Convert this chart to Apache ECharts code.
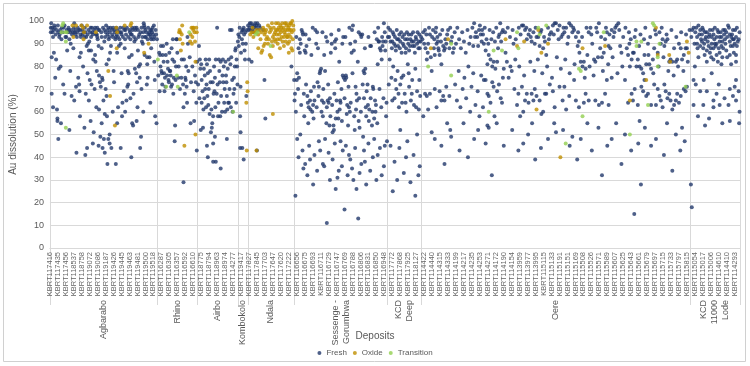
<!DOCTYPE html>
<html><head><meta charset="utf-8">
<script src="https://cdn.jsdelivr.net/npm/echarts@6/dist/echarts.min.js"></script>
<style>html,body{margin:0;padding:0;background:#fff}#c{width:750px;height:366px}</style>
</head><body><div id="c"></div>
<script>
// sample-number tick labels (one label every 18 samples)
const tickLabels = ['KBRT117416','KBRT117435','KBRT117456','KBRT118537','KBRT118758','KBRT119072','KBRT119086','KBRT119187','KBRT119426','KBRT119445','KBRT119463','KBRT119481','KBRT119500','KBRT119518','KBRT116287','KBRT116305','KBRT116357','KBRT116592','KBRT116610','KBRT118775','KBRT118794','KBRT118963','KBRT118974','KBRT114277','KBRT119417','KBRT117827','KBRT117845','KBRT117703','KBRT117647','KBRT117620','KBRT117222','KBRT116656','KBRT116675','KBRT116693','KBRT116711','KBRT116729','KBRT116747','KBRT116769','KBRT116788','KBRT116806','KBRT116831','KBRT116850','KBRT116948','KBRT117772','KBRT117868','KBRT117925','KBRT118127','KBRT114422','KBRT114440','KBRT114315','KBRT114333','KBRT114199','KBRT114217','KBRT114235','KBRT114253','KBRT114271','KBRT114172','KBRT114190','KBRT114154','KBRT113959','KBRT113977','KBRT113995','KBRT115115','KBRT115133','KBRT115191','KBRT115151','KBRT115169','KBRT115508','KBRT115526','KBRT115571','KBRT115589','KBRT115607','KBRT115625','KBRT115643','KBRT115661','KBRT115679','KBRT115697','KBRT115715','KBRT115733','KBRT115797','KBRT115815','KBRT115054','KBRT115017','KBRT115006','KBRT114610','KBRT114410','KBRT114293'];
const labelStep = 18;
const sampleCount = 1560;
const deposits = ['Agbarabo','Rhino','Airbo','Kombokolo','Ndala','Sessenge -\nGorumbwa','KCD\nDeep','Oere','KCD\n11000\nLode'];
const depositBounds = [0,243,333,426,447,552,763,840,1447,1560];

// [sample index, Au dissolution %]
const fresh = [
[2,97],[2,95],[6,95],[4,84],[4,68],[10,98],[12,75],[14,83],[16,61],[17,57],[17,56],[19,95],[21,93],[24,80],[27,97],[40,95],[43,96],[45,95],[47,90],[49,67],[56,95],[61,93],[62,95],[64,75],[66,72],[67,84],[67,69],[73,96],[80,95],[81,68],[83,89],[87,96],[86,90],[89,91],[88,87],[88,65],[90,74],[93,93],[93,87],[96,95],[98,83],[99,51],[101,70],[103,82],[107,97],[107,93],[109,96],[110,89],[111,76],[111,61],[113,73],[114,49],[115,71],[118,75],[119,74],[121,65],[122,48],[123,96],[123,91],[124,59],[125,93],[127,98],[128,81],[129,58],[132,48],[132,97],[134,93],[135,95],[136,86],[138,89],[135,50],[141,94],[143,97],[145,73],[147,95],[149,93],[154,93],[154,62],[156,89],[158,95],[160,90],[161,95],[163,58],[164,64],[167,69],[171,96],[173,65],[175,71],[176,78],[178,77],[179,84],[181,95],[186,97],[186,55],[188,54],[189,68],[191,91],[193,96],[195,77],[197,73],[198,62],[200,93],[201,80],[203,75],[204,81],[206,49],[208,91],[210,90],[212,99],[213,98],[216,96],[219,72],[220,84],[220,81],[225,95],[225,84],[226,94],[228,93],[231,95],[233,94],[234,92],[235,98],[237,74],[238,58],
[19,48],[60,42],[80,41],[84,44],[97,46],[110,45],[119,44],[124,42],[130,37],[135,46],[139,44],[149,37],[160,44],[184,40],[204,44],
[5,97],[8,96],[13,94],[23,96],[31,97],[35,93],[38,96],[52,95],[54,97],[58,94],[65,96],[69,94],[76,95],[78,93],[92,97],[100,96],[104,94],[116,95],[130,94],[140,96],[150,97],[165,93],[168,96],[183,94],[196,97],[205,95],[215,93],[222,97],[230,96],[240,94],
[3,99],[7,93],[11,97],[15,96],[18,98],[22,94],[26,92],[29,95],[33,98],[37,93],[42,97],[44,92],[48,96],[50,94],[55,99],[57,96],[63,97],[68,96],[70,93],[72,98],[74,94],[79,97],[82,93],[85,94],[91,95],[95,97],[97,94],[102,97],[106,94],[108,92],[112,96],[117,93],[120,97],[126,95],[131,96],[133,92],[137,97],[142,93],[146,96],[148,92],[151,94],[153,96],[157,92],[159,97],[162,94],[166,97],[170,92],[172,94],[174,97],[177,93],[180,96],[182,92],[185,94],[187,96],[190,93],[192,97],[194,92],[199,96],[202,94],[207,97],[209,93],[211,95],[214,97],[217,93],[218,95],[221,92],[223,94],[227,96],[229,92],[232,97],[236,93],[239,96],[242,92],
[9,86],[20,79],[30,72],[39,87],[46,78],[53,88],[59,71],[70,86],[75,80],[85,77],[94,72],[102,85],[106,78],[117,88],[126,70],[133,83],[144,78],[152,86],[162,77],[169,88],[177,72],[185,85],[192,79],[199,87],[207,70],[214,85],[221,75],[229,88],[236,82],
[7,62],[25,55],[33,68],[44,52],[55,65],[68,58],[78,53],[92,56],[105,62],[117,55],[128,67],[142,60],[152,55],[170,60],[182,66],[196,56],[211,60],[227,64],[241,55],
[247,86],[249,85],[251,89],[252,78],[253,77],[255,85],[256,89],[258,77],[260,75],[261,71],[264,90],[265,76],[266,82],[268,74],[269,73],[271,78],[272,78],[274,71],[275,88],[277,83],[278,92],[280,75],[281,82],[283,54],[284,74],[286,92],[287,92],[290,75],[297,75],[302,62],[303,83],[305,68],[306,75],[307,74],[309,71],[311,93],[312,90],[318,55],[326,56],[330,73],[333,82],[282,47],[302,29],[332,43],
[245,76],[248,69],[250,80],[254,72],[257,82],[259,69],[262,85],[267,79],[270,86],[273,76],[276,72],[279,68],[285,80],[288,86],[291,80],[294,70],[298,83],[301,72],[308,80],[310,64],[313,78],[316,84],[319,73],[322,80],[325,69],[328,76],[331,64],
[337,89],[339,83],[340,79],[342,81],[343,74],[343,64],[345,69],[346,53],[348,79],[349,66],[351,70],[352,83],[354,72],[355,81],[357,77],[358,63],[360,83],[361,59],[363,73],[364,51],[366,53],[367,55],[369,58],[370,68],[372,69],[373,75],[375,83],[378,97],[380,58],[382,83],[383,78],[385,58],[386,82],[389,60],[391,83],[392,73],[394,64],[395,70],[397,82],[398,76],[400,67],[401,61],[403,64],[404,83],[405,64],[407,96],[408,81],[410,84],[411,96],[413,60],[416,75],[417,70],[419,87],[420,88],[422,83],[423,80],[425,91],
[335,72],[338,66],[347,61],[350,76],[353,62],[356,67],[359,70],[362,78],[365,61],[368,73],[371,80],[374,62],[377,68],[379,72],[381,64],[384,73],[387,67],[390,76],[393,80],[396,60],[399,73],[402,79],[406,70],[409,62],[412,74],[415,68],[418,80],[421,64],[424,72],
[341,52],[355,45],[357,40],[369,46],[369,38],[373,49],[375,38],[386,35],[400,48],
[426,94],[428,93],[430,58],[431,71],[434,92],[435,96],[437,96],[438,97],[440,87],[441,83],[442,95],[444,67],[431,51],[430,44],[435,44],[438,39],
[427,89],[429,97],[432,86],[433,95],[436,90],[439,94],[443,90],[445,96],
[448,98],[452,99],[454,96],[457,98],[462,98],[467,98],[469,99],[450,83],[456,82],[485,74],[487,57],[482,96],[546,80],[468,43],[460,95],[475,97],
[449,96],[451,97],[455,99],[458,96],[461,97],[464,99],[466,97],[470,96],[473,98],
[552,74],[554,68],[553,65],[558,74],[559,77],[563,75],[565,92],[565,86],[567,90],[569,96],[571,95],[572,94],[574,68],[576,87],[578,86],[580,89],[582,67],[583,64],[585,62],[588,65],[589,61],[591,85],[593,60],[595,63],[597,71],[598,65],[600,96],[602,90],[604,95],[605,73],[608,71],[610,77],[611,78],[613,79],[615,65],[617,58],[619,64],[620,85],[622,78],[624,93],[626,62],[628,65],[630,64],[632,54],[633,66],[635,86],[637,90],[639,51],[641,54],[642,52],[644,91],[647,92],[648,65],[650,60],[652,57],[654,82],[656,65],[657,64],[659,70],[662,76],[663,93],[664,75],[667,74],[669,76],[670,75],[672,63],[674,54],[676,62],[678,60],[679,90],[682,86],[683,96],[684,77],[685,98],[687,87],[689,52],[691,71],[693,68],[694,65],[696,82],[699,66],[700,53],[702,94],[704,93],[706,94],[707,72],[709,78],[711,77],[713,79],[715,58],[716,69],[719,63],[722,61],[724,89],[726,89],[728,54],[730,71],[731,70],[733,57],[736,60],[737,63],[739,92],[741,81],[743,91],[744,91],[746,88],[748,87],[750,83],[752,89],[753,91],[755,99],[758,87],[759,91],[761,64],
[556,60],[561,70],[568,63],[575,58],[579,72],[584,55],[590,69],[596,57],[603,62],[607,67],[614,60],[618,70],[625,55],[629,72],[634,58],[638,63],[643,68],[646,57],[651,73],[655,61],[660,56],[666,66],[671,59],[675,71],[680,64],[688,58],[692,61],[698,56],[703,60],[710,66],[714,62],[718,72],[721,56],[725,66],[729,60],[735,65],[740,55],[745,70],[749,62],[754,66],[760,58],
[562,40],[573,35],[586,45],[598,41],[608,47],[620,36],[630,42],[644,46],[650,31],[660,36],[669,45],[676,41],[683,35],[690,44],[700,33],[712,38],[720,46],[730,40],[738,30],[746,44],[755,36],[762,47],
[557,93],[562,88],[578,94],[586,92],[594,97],[606,88],[616,95],[627,91],[636,94],[645,88],[653,96],[661,90],[668,93],[677,97],[690,91],[698,95],[712,88],[720,93],[734,95],[742,97],[751,93],[757,95],
[559,48],[571,43],[577,37],[582,32],[588,39],[595,28],[604,34],[611,43],[617,37],[626,11],[633,30],[639,39],[646,26],[653,34],[662,43],[666,17],[673,32],[679,39],[686,30],[693,26],[697,13],[704,37],[710,43],[715,28],[724,34],[733,48],[741,41],[750,32],[757,45],[566,50],[622,48],[657,47],[708,49],[555,23],
[765,97],[767,93],[770,91],[773,88],[775,95],[778,90],[780,93],[782,87],[785,92],[787,89],[790,94],[792,91],[795,86],[797,93],[800,89],[803,92],[805,88],[807,95],[810,90],[812,87],[815,92],[817,94],[820,89],[822,91],[825,86],[827,93],[830,90],[833,88],[835,94],[838,91],
[764,93],[769,96],[774,91],[777,94],[781,89],[784,96],[788,92],[791,88],[794,95],[798,90],[801,94],[804,86],[808,92],[811,94],[814,89],[818,91],[821,95],[824,89],[828,92],[831,95],[834,91],[836,88],[839,93],
[768,83],[772,75],[776,80],[779,66],[783,70],[786,78],[789,62],[792,72],[796,64],[799,76],[802,68],[806,60],[809,81],[812,71],[816,65],[819,74],[823,63],[826,79],[830,69],[834,61],[837,67],
[766,72],[774,65],[781,74],[788,68],[795,75],[804,64],[811,77],[818,68],[828,62],[835,74],
[770,45],[779,38],[785,30],[792,52],[800,33],[808,47],[815,29],[822,41],[830,50],[836,36],[775,25],[790,44],[805,40],[826,23],[833,32],
[844,95],[848,96],[849,88],[852,83],[854,86],[855,90],[859,94],[861,84],[863,78],[866,96],[869,92],[870,85],[872,95],[874,90],[876,93],[878,88],[879,87],[881,85],[884,91],[885,81],[889,89],[891,87],[894,92],[896,90],[900,96],[903,88],[907,91],[911,86],[913,88],
[842,92],[846,90],[851,94],[857,97],[864,93],[868,88],[873,97],[877,91],[882,94],[887,96],[893,88],[898,94],[905,97],[909,93],[915,95],[918,90],[921,97],[925,92],[929,88],[932,95],[936,91],[940,86],[944,96],[948,90],[951,93],[957,89],[961,93],[968,89],[972,98],[976,91],[979,94],[983,97],[987,92],[991,90],[994,96],[998,92],[1002,95],[1006,91],[1009,97],[1013,88],[1016,94],[1020,91],[1024,96],
[844,58],[848,68],[852,67],[855,61],[859,68],[863,51],[870,70],[874,62],[881,69],[885,65],[889,67],[892,65],[896,71],[898,55],[903,67],[907,49],
[916,72],[920,65],[924,78],[928,62],[933,70],[937,75],[941,66],[946,80],[950,60],[953,71],[957,77],[962,63],[967,69],[971,58],[975,76],[979,62],[1005,58],[1015,72],[1019,66],[1024,75],
[955,97],[959,99],[963,95],[966,93],[970,96],[974,94],[977,96],[981,90],[985,87],[989,81],[992,85],[996,83],[1000,80],[1003,82],[1007,79],[1011,82],[1014,93],[1018,99],[1022,95],[981,74],[985,74],[989,68],[992,67],[996,64],[1000,73],[1003,71],[1011,69],[1022,64],[989,54],[992,53],
[1067,98],[1070,98],[1074,96],[1078,92],[1082,94],[1085,96],[1089,91],[1093,95],[1096,90],[1100,93],[1104,93],[1107,89],[1111,96],[1115,88],[1119,91],[1122,85],[1126,97],[1130,94],[1133,95],[1137,98],[1141,99],[1144,99],[1148,96],[1152,98],[1156,93],[1159,94],[1163,95],[1167,97],[1170,90],[1174,99],[1178,98],[1181,95],[1185,96],[1189,93],[1193,89],[1196,91],[1200,82],[1204,80],[1207,82],[1211,79],[1215,85],[1218,95],[1222,97],[1226,90],[1230,83],[1233,82],[1237,95],[1241,99],[1244,88],[1248,84],[1252,86],[1255,92],[1259,95],[1263,89],[1267,88],[1270,96],[1274,93],[1278,97],[1281,98],[1285,99],[1289,89],[1292,86],
[1029,95],[1035,97],[1040,93],[1046,96],[1053,92],[1060,97],[1064,94],[1077,97],[1087,93],[1098,97],[1109,95],[1117,93],[1128,92],[1139,94],[1150,92],[1161,97],[1172,93],[1183,97],[1194,95],[1203,93],[1213,97],[1224,94],[1235,97],[1246,93],[1257,97],[1265,94],[1276,95],[1287,96],[1296,93],[1301,97],[1309,95],[1313,92],[1324,96],[1335,94],[1346,97],[1357,93],[1368,96],[1383,97],[1394,94],[1405,96],[1416,93],[1427,95],[1438,94],[1446,96],
[1322,93],[1326,80],[1329,83],[1333,80],[1337,79],[1341,77],[1344,85],[1348,81],[1352,90],[1355,81],[1359,79],[1363,83],[1366,88],[1370,94],[1374,86],[1378,95],[1381,90],[1385,92],[1389,89],[1392,91],[1396,92],[1400,82],[1403,83],[1407,82],[1411,88],[1415,82],[1418,83],[1422,90],[1426,88],[1429,83],[1433,85],[1437,88],[1440,88],
[1030,86],[1037,75],[1044,78],[1050,70],[1061,80],[1072,76],[1086,82],[1095,78],[1103,83],[1113,77],[1124,80],[1135,75],[1146,84],[1155,79],[1165,83],[1175,77],[1186,81],[1197,86],[1209,75],[1220,80],[1229,76],[1239,84],[1250,78],[1262,81],[1272,84],[1283,77],[1294,80],[1300,74],[1310,90],[1320,86],[1332,89],[1343,92],[1353,85],[1364,77],[1376,80],[1387,84],[1398,78],[1410,76],[1420,80],[1432,78],[1442,82],
[1056,63],[1059,68],[1063,58],[1067,71],[1070,60],[1074,65],[1078,68],[1082,64],[1089,68],[1093,65],[1096,70],[1100,67],[1107,65],[1111,59],[1115,60],[1119,68],[1122,68],[1130,72],[1137,69],[1141,62],[1144,51],[1152,71],[1159,65],[1163,71],[1167,61],[1174,67],[1181,49],[1185,74],[1189,65],[1196,62],[1207,64],[1211,68],[1218,65],[1233,65],[1241,63],[1248,64],[1255,68],[1259,74],[1263,63],[1270,75],[1307,64],[1315,68],[1318,65],[1322,70],[1329,63],[1333,56],[1337,71],[1341,69],[1344,74],[1348,67],[1352,68],[1359,63],[1366,72],[1370,63],[1374,70],[1378,67],[1381,65],[1385,62],[1389,72],[1392,69],[1396,66],[1400,68],[1403,65],[1407,61],[1411,63],[1415,65],[1418,68],[1422,64],[1426,67],[1429,53],[1433,70],[1437,69],[1440,71],
[1304,88],[1307,85],[1311,80],[1315,83],[1318,86],[1026,79],[1033,82],[1041,80],[1048,90],[1052,83],
[870,48],[892,37],[926,43],[959,48],[999,32],[1026,45],[1059,43],[1081,50],[1097,39],[1126,48],[1192,39],[1225,43],[1248,32],[1270,48],[1292,37],[1314,43],[1321,15],[1336,28],[1359,45],[1388,41],[1407,34],[1425,43],
[885,45],[905,52],[935,55],[945,40],[968,52],[985,46],[1010,55],[1045,52],[1070,46],[1090,55],[1110,44],[1140,55],[1160,52],[1175,45],[1200,48],[1215,55],[1240,53],[1260,45],[1280,55],[1300,50],[1330,46],[1345,53],[1370,48],[1395,55],[1415,50],[1435,47],
[1455,97],[1459,95],[1463,93],[1466,98],[1470,96],[1474,94],[1477,96],[1481,92],[1485,95],[1489,93],[1492,96],[1496,90],[1500,94],[1503,97],[1507,93],[1511,95],[1514,91],[1518,93],[1522,96],[1526,92],[1529,95],[1533,98],[1537,94],[1540,93],[1544,96],[1548,90],[1551,93],[1555,91],[1559,95],[1470,89],[1477,88],[1485,87],[1492,86],[1500,88],[1507,85],[1514,86],[1522,88],[1529,87],[1537,85],[1544,89],[1551,85],[1485,82],[1500,83],[1518,81],[1540,81],[1551,82],
[1450,93],[1452,96],[1457,90],[1461,97],[1464,88],[1468,94],[1472,92],[1475,97],[1479,90],[1483,93],[1487,91],[1491,94],[1494,88],[1498,96],[1502,92],[1505,89],[1509,96],[1512,88],[1516,95],[1520,91],[1524,94],[1527,90],[1531,93],[1535,97],[1539,89],[1542,94],[1546,92],[1549,96],[1553,89],[1557,92],[1553,97],[1546,86],[1531,84],[1520,84],[1510,82],[1495,84],[1480,85],[1466,84],[1458,80],[1460,72],[1478,74],[1496,77],[1512,72],[1525,66],[1534,63],[1557,69],[1558,55],[1465,58],[1490,57],[1520,55],
[1455,74],[1470,69],[1485,69],[1500,65],[1514,63],[1537,70],[1548,71],[1551,65],[1559,60],[1544,67],[1477,63],[1455,63],[1500,62],[1537,56],[1481,54],[1507,68],[1551,74],
[1463,90],[1474,91],[1489,89],[1503,90],[1514,93],[1526,96],[1537,91],[1544,92],[1507,90],[1481,95],[1496,93],[1518,89],[1449,28],[1451,18]
];
const oxide = [
[51,98],[53,93],[59,98],[71,98],[75,97],[77,95],[76,92],[84,98],[104,95],[132,78],[136,67],[150,97],[151,88],[152,95],[169,98],[182,98],[184,99],[213,86],[223,90],[147,54],
[292,95],[293,96],[295,95],[296,87],[299,98],[300,90],[317,91],[320,97],[321,90],[323,97],[324,96],[327,95],[329,82],[332,95],[304,45],[329,50],
[294,92],[298,94],[318,94],[322,93],[325,97],[328,91],[331,97],
[446,73],[447,69],[444,64],[445,43],
[474,96],[478,95],[482,97],[485,94],[489,96],[493,98],[497,95],[500,96],[504,93],[506,97],[509,95],[511,96],[514,96],[517,97],[519,96],[521,98],[522,95],[524,93],[526,96],[528,97],[530,95],[531,99],[533,96],[536,93],[537,96],[539,97],[541,91],[543,99],[545,96],[546,88],[548,87],[551,96],[478,86],[480,87],[497,85],[500,84],[493,90],[504,89],[515,90],[526,91],[533,91],[537,93],[541,98],[545,99],[548,100],[504,59],[484,96],[491,93],[508,92],[518,94],[523,97],[535,98],[515,92],[502,91],[489,92],[511,99],[456,95],[462,95],[465,95],[467,96],[460,93],[467,43],
[453,94],[458,97],[471,94],[476,92],[483,89],[487,95],[495,92],[498,97],[502,99],[507,94],[510,91],[513,94],[516,99],[520,92],[525,99],[529,93],[532,94],[534,99],[538,90],[540,94],[542,96],[544,93],[547,95],[549,92],[550,98],[471,88],[486,90],[520,88],[529,89],[540,86],
[861,88],[900,92],
[1030,92],[1056,89],[1072,91],[1104,96],[1111,86],[1126,90],[1204,88],[1255,89],[1370,97],[1374,85],[1400,85],[1402,82],[1440,91],[1444,86],[1311,65],[1100,61],[1348,74],[1154,40]
];
const transition = [
[28,98],[30,99],[34,95],[36,91],[36,53],[26,95],[38,95],
[244,83],[289,71],[315,95],[287,76],[263,71],[414,60],
[465,94],[469,95],[499,89],
[855,80],[907,90],[907,76],[1003,87],[1022,87],[992,60],
[1056,95],[1059,88],[1104,97],[1107,94],[1122,98],[1196,79],[1200,78],[1204,58],[1252,95],[1326,91],[1337,91],[1326,89],[1363,99],[1366,98],[1374,84],[1378,90],[1374,80],[1352,63],[1311,50],[1437,71],[1166,46]
];

const FONT = '"Liberation Sans", Arial, sans-serif';
const TXT = '#595959';
const chart = echarts.init(document.getElementById('c'), null, {renderer: 'canvas'});
const mk = (name, data, color) => ({
  name, type: 'scatter', data, symbol: 'circle', symbolSize: 4,
  itemStyle: {color}, emphasis: {disabled: true}, silent: true
});
chart.setOption({
  animation: false,
  backgroundColor: '#fff',
  grid: {left: 38, right: 10, top: 21, bottom: 118},
  xAxis: {
    type: 'value', min: 0, max: sampleCount, interval: labelStep,
    axisLine: {show: true, lineStyle: {color: '#d9d9d9'}},
    axisTick: {show: false}, splitLine: {show: false},
    axisLabel: {
      rotate: 90, fontSize: 7.5, color: '#666', fontFamily: FONT, margin: 4,
      showMaxLabel: false,
      formatter: v => tickLabels[Math.round(v / labelStep)] || ''
    }
  },
  yAxis: {
    type: 'value', min: 0, max: 100, interval: 10,
    name: 'Au dissolution (%)', nameLocation: 'middle', nameGap: 22, nameRotate: 90,
    nameTextStyle: {fontSize: 10, color: TXT, fontFamily: FONT},
    axisLine: {show: false}, axisTick: {show: false},
    axisLabel: {fontSize: 9, color: TXT, fontFamily: FONT, margin: 6},
    splitLine: {lineStyle: {color: '#d9d9d9', width: 1}}
  },
  legend: {
    bottom: 4, left: 'center', itemWidth: 4, itemHeight: 4, itemGap: 6,
    icon: 'circle', textStyle: {fontSize: 8, color: TXT, fontFamily: FONT},
    data: ['Fresh', 'Oxide', 'Transition']
  },
  series: [
    mk('Fresh', fresh, '#22386b'),
    mk('Oxide', oxide, '#bf8f00'),
    mk('Transition', transition, '#92d050')
  ]
});

function drawGroups() {
  const top = chart.convertToPixel({yAxisIndex: 0}, 100);
  const els = [];
  depositBounds.forEach(b => {
    const x = Math.round(chart.convertToPixel({xAxisIndex: 0}, b)) + 0.5;
    els.push({type: 'line', shape: {x1: x, y1: top, x2: x, y2: 305}, style: {stroke: '#d9d9d9', lineWidth: 1}, silent: true});
  });
  deposits.forEach((d, i) => {
    const cx = chart.convertToPixel({xAxisIndex: 0}, (depositBounds[i] + depositBounds[i + 1]) / 2);
    const n = d.split('\n').length;
    // rotated text: local +y maps to screen right, so shift the block left by half its height
    els.push({type: 'text', x: cx - n * 11 / 2, y: 300, rotation: Math.PI / 2,
      style: {text: d, fontSize: 9, fill: TXT, fontFamily: FONT, align: 'right', verticalAlign: 'top', lineHeight: 11}, silent: true});
  });
  els.push({type: 'text', x: 375, y: 336, style: {text: 'Deposits', fontSize: 10, fill: TXT, fontFamily: FONT, align: 'center', verticalAlign: 'middle'}, silent: true});
  els.push({type: 'rect', shape: {x: 3.5, y: 3.5, width: 742, height: 358}, style: {fill: 'none', stroke: '#d0d0d0', lineWidth: 1}, silent: true});
  chart.setOption({graphic: els});
}
drawGroups();
</script>
</body></html>
